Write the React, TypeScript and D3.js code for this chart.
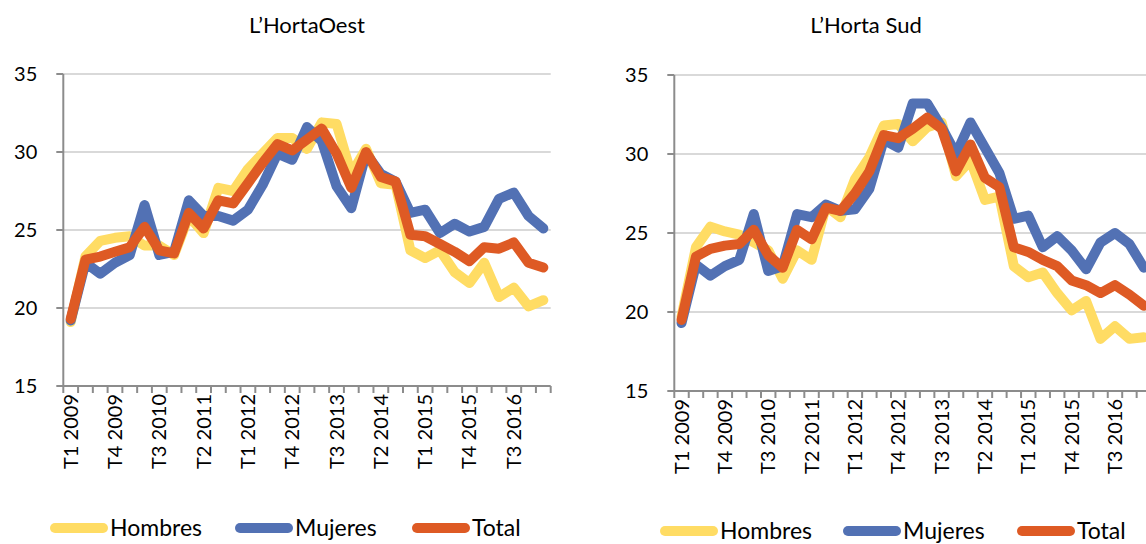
import * as d3 from 'd3'

// quarters T1 2009 .. T1 2017
const quarters = [
  'T1 2009', 'T2 2009', 'T3 2009', 'T4 2009',
  'T1 2010', 'T2 2010', 'T3 2010', 'T4 2010',
  'T1 2011', 'T2 2011', 'T3 2011', 'T4 2011',
  'T1 2012', 'T2 2012', 'T3 2012', 'T4 2012',
  'T1 2013', 'T2 2013', 'T3 2013', 'T4 2013',
  'T1 2014', 'T2 2014', 'T3 2014', 'T4 2014',
  'T1 2015', 'T2 2015', 'T3 2015', 'T4 2015',
  'T1 2016', 'T2 2016', 'T3 2016', 'T4 2016',
  'T1 2017',
]
const shownQuarters = ['T1 2009', 'T4 2009', 'T3 2010', 'T2 2011', 'T1 2012', 'T4 2012',
  'T3 2013', 'T2 2014', 'T1 2015', 'T4 2015', 'T3 2016']
const yTicks = [15, 20, 25, 30, 35]
const seriesNames = ['Hombres', 'Mujeres', 'Total']
const seriesColors = ['#FFDC64', '#5271B4', '#DE5A24']

// L'HortaOest
const oestHombres = [19.1, 23.3, 24.3, 24.5, 24.6, 24.0, 24.0, 23.4, 25.9, 24.8, 27.7, 27.5, 28.9, 29.9, 30.9, 30.9,
  30.2, 31.9, 31.8, 28.6, 30.2, 28.0, 27.9, 23.7, 23.2, 23.7, 22.3, 21.6, 22.9, 20.7, 21.3, 20.1, 20.5]
const oestMujeres = [19.2, 22.9, 22.2, 22.9, 23.4, 26.6, 23.4, 23.6, 26.9, 25.9, 25.9, 25.6, 26.3, 27.9, 29.9, 29.5,
  31.6, 30.7, 27.8, 26.4, 29.9, 28.6, 28.1, 26.1, 26.3, 24.8, 25.4, 24.9, 25.2, 27.0, 27.4, 25.9, 25.1]
const oestTotal = [19.3, 23.1, 23.3, 23.6, 23.9, 25.2, 23.7, 23.5, 26.1, 25.1, 26.9, 26.7, 28.0, 29.3, 30.5, 30.1,
  30.8, 31.5, 29.9, 27.7, 30.0, 28.4, 28.1, 24.7, 24.6, 24.1, 23.6, 23.0, 23.9, 23.8, 24.2, 22.9, 22.6]

// L'Horta Sud
const sudHombres = [19.7, 24.1, 25.4, 25.1, 24.9, 24.4, 23.9, 22.1, 23.9, 23.3, 26.7, 26.0, 28.4, 29.8, 31.8, 31.9,
  30.8, 31.7, 32.0, 28.6, 29.6, 27.1, 27.3, 22.9, 22.2, 22.5, 21.2, 20.1, 20.7, 18.3, 19.1, 18.3, 18.4]
const sudMujeres = [19.3, 23.0, 22.3, 22.9, 23.3, 26.2, 22.6, 22.9, 26.2, 26.0, 26.8, 26.4, 26.5, 27.8, 30.9, 30.4,
  33.2, 33.2, 31.7, 30.0, 32.0, 30.4, 28.8, 25.9, 26.1, 24.1, 24.8, 23.9, 22.7, 24.4, 25.0, 24.3, 22.8]
const sudTotal = [19.5, 23.5, 24.0, 24.2, 24.3, 25.2, 23.6, 22.8, 25.2, 24.6, 26.6, 26.4, 27.5, 28.9, 31.2, 31.0,
  31.6, 32.3, 31.6, 28.9, 30.6, 28.5, 27.9, 24.1, 23.8, 23.3, 22.9, 22.0, 21.7, 21.2, 21.7, 21.1, 20.4]

const FONT = 'Lato, "Open Sans", sans-serif'

type PanelProps = {
  title: string
  series: number[][]
  left: number
  right: number
  top: number
  bottom: number
  titleX: number
  legendY: number
  legendX: number[]
}

function Panel({ title, series, left, right, top, bottom, titleX, legendY, legendX }: PanelProps) {
  const x = d3.scaleBand<string>().domain(quarters).range([left, right])
  const y = d3.scaleLinear().domain([15, 35]).range([bottom, top])
  const cx = (i: number) => (x(quarters[i]) as number) + x.bandwidth() / 2
  const line = d3.line<number>().x((_, i) => cx(i)).y(d => y(d))
  const bounds = quarters.map(q => x(q) as number).concat([right])

  return (
    <g>
      <text x={titleX} y={33} textAnchor='middle' fontSize={22} fill='#000'>{title}</text>
      {yTicks.slice(1).map(t => (
        <line key={t} x1={left} x2={right} y1={y(t)} y2={y(t)} stroke='#D9D9D9' strokeWidth={2} />
      ))}
      {yTicks.map(t => (
        <g key={t}>
          <line x1={left - 7} x2={left} y1={y(t)} y2={y(t)} stroke='#8C8C8C' strokeWidth={2} />
          <text x={left - 26} y={y(t)} dy='0.35em' textAnchor='end' fontSize={20} fill='#000'>{t}</text>
        </g>
      ))}
      <line x1={left} x2={left} y1={top} y2={bottom} stroke='#8C8C8C' strokeWidth={2} />
      <line x1={left} x2={right} y1={bottom} y2={bottom} stroke='#8C8C8C' strokeWidth={2} />
      {bounds.map((b, i) => (
        <line key={i} x1={b} x2={b} y1={bottom} y2={bottom + 7} stroke='#8C8C8C' strokeWidth={2} />
      ))}
      {shownQuarters.map(q => {
        const px = (x(q) as number) + x.bandwidth() / 2
        return (
          <text key={q} transform={`translate(${px},${bottom + 8}) rotate(-90)`} dy='0.35em'
            textAnchor='end' fontSize={20} fill='#000'>{q}</text>
        )
      })}
      {series.map((s, k) => (
        <path key={k} d={line(s) ?? ''} fill='none' stroke={seriesColors[k]} strokeWidth={10}
          strokeLinejoin='round' strokeLinecap='round' />
      ))}
      {seriesNames.map((n, k) => (
        <g key={n}>
          <line x1={legendX[k] + 5} x2={legendX[k] + 53} y1={legendY} y2={legendY}
            stroke={seriesColors[k]} strokeWidth={10} strokeLinecap='round' />
          <text x={legendX[k] + 60} y={legendY} dy='0.35em' fontSize={23} fill='#000'>{n}</text>
        </g>
      ))}
    </g>
  )
}

export default function App() {
  return (
    <svg width={1146} height={544} style={{ position: 'absolute', left: 0, top: 0, fontFamily: FONT, background: '#fff' }}>
      <rect width={1146} height={544} fill='#fff' />
      <Panel title={'L\u2019HortaOest'} series={[oestHombres, oestMujeres, oestTotal]}
        left={63.3} right={550.7} top={74} bottom={386} titleX={307} legendY={528}
        legendX={[50, 235, 412]} />
      <Panel title={'L\u2019Horta Sud'} series={[sudHombres, sudMujeres, sudTotal]}
        left={674.3} right={1151.1} top={75} bottom={391} titleX={866} legendY={531}
        legendX={[660, 843, 1017]} />
    </svg>
  )
}
